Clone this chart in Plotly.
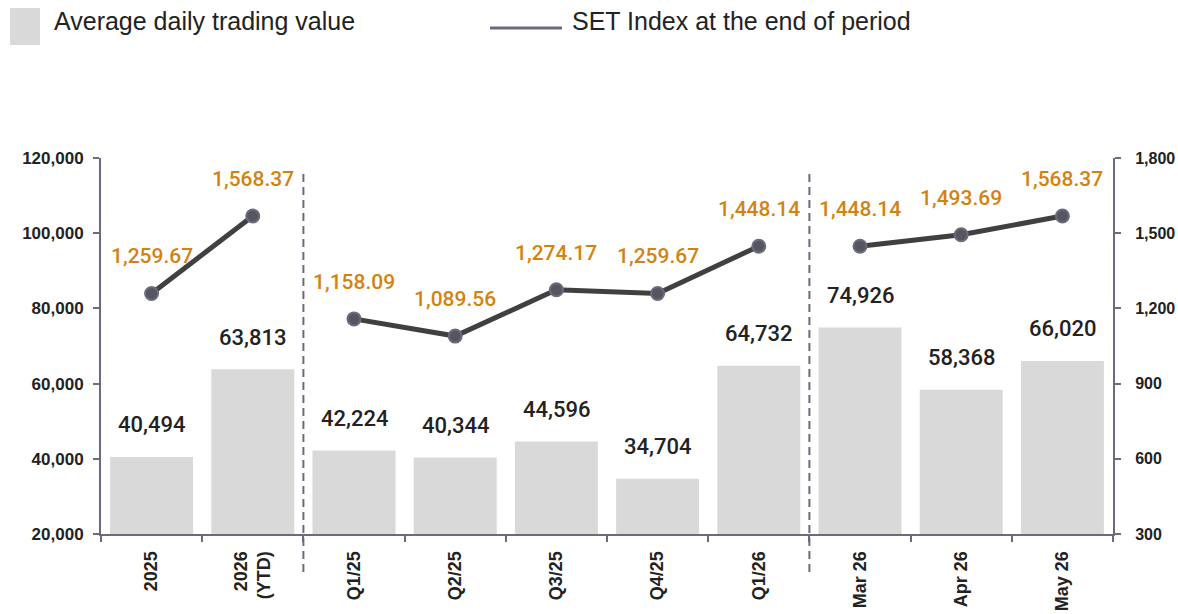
import plotly.graph_objects as go

# ---- data ----
categories = ["2025", "2026<br>(YTD)", "Q1/25", "Q2/25", "Q3/25", "Q4/25", "Q1/26",
              "Mar 26", "Apr 26", "May 26"]
trading_value = [40494, 63813, 42224, 40344, 44596, 34704, 64732, 74926, 58368, 66020]
set_index = [1259.67, 1568.37, 1158.09, 1089.56, 1274.17, 1259.67, 1448.14,
             1448.14, 1493.69, 1568.37]
line_groups = [[0, 1], [2, 3, 4, 5, 6], [7, 8, 9]]
left_ticks = [20000, 40000, 60000, 80000, 100000, 120000]
right_ticks = [300, 600, 900, 1200, 1500, 1800]
separators = [1.5, 6.5]

# ---- layout helpers (pixel -> paper) ----
W, H = 1178, 614
L, R, T, B = 101, 1113, 158, 534


def px_x(p):
    return (p - L) / (R - L)


def px_y(p):
    return (B - p) / (B - T)


FONT = "Arial, 'Liberation Sans', Helvetica, sans-serif"
LABEL_FONT = "Roboto, Arial, sans-serif"
AXIS_COL = "#6b6b80"
ORANGE = "#d4820f"
BAR_COL = "#d9d9d9"

xs = list(range(len(categories)))

fig = go.Figure()
fig.add_trace(go.Bar(x=xs, y=[v - left_ticks[0] for v in trading_value], base=left_ticks[0],
                     marker=dict(color=BAR_COL, line=dict(width=0)), width=0.82,
                     name="Average daily trading value", showlegend=False,
                     hoverinfo="skip"))
for g in line_groups:
    fig.add_trace(go.Scatter(x=[xs[i] for i in g], y=[set_index[i] for i in g], yaxis="y2",
                             mode="lines+markers",
                             line=dict(color="#404040", width=5),
                             marker=dict(size=13, color="#56565f",
                                         line=dict(color=AXIS_COL, width=2)),
                             name="SET Index at the end of period", showlegend=False))

annotations = []
for i, v in enumerate(trading_value):
    annotations.append(dict(x=xs[i], y=v, xref="x", yref="y", text=f"{v:,}",
                            showarrow=False, yanchor="middle", yshift=32,
                            font=dict(family=LABEL_FONT, size=22, color="#222222",
                                      weight=500)))
for i, v in enumerate(set_index):
    annotations.append(dict(x=xs[i], y=v, xref="x", yref="y2", text=f"{v:,.2f}",
                            showarrow=False, yanchor="middle", yshift=37,
                            font=dict(family=LABEL_FONT, size=21, color=ORANGE,
                                      weight=500)))
# legend texts
annotations.append(dict(x=px_x(54), y=px_y(21), xref="paper", yref="paper",
                        text="Average daily trading value", showarrow=False,
                        xanchor="left", yanchor="middle", xshift=-2,
                        font=dict(family=FONT, size=25, color="#222222")))
annotations.append(dict(x=px_x(572), y=px_y(21), xref="paper", yref="paper",
                        text="SET Index at the end of period", showarrow=False,
                        xanchor="left", yanchor="middle", xshift=-2,
                        font=dict(family=FONT, size=25, color="#222222")))

shapes = []
for s in separators:
    shapes.append(dict(type="line", xref="x", yref="paper", x0=s, x1=s,
                       y0=px_y(572), y1=px_y(170),
                       line=dict(color=AXIS_COL, width=2, dash="8px,5px")))
shapes.append(dict(type="rect", xref="paper", yref="paper",
                   x0=px_x(10), x1=px_x(40), y0=px_y(45), y1=px_y(8),
                   fillcolor=BAR_COL, line=dict(width=0)))
shapes.append(dict(type="line", xref="paper", yref="paper",
                   x0=px_x(490), x1=px_x(562), y0=px_y(28), y1=px_y(28),
                   line=dict(color=AXIS_COL, width=3)))

fig.update_layout(
    width=W, height=H,
    margin=dict(l=L, r=W - R, t=T, b=H - B, autoexpand=False),
    paper_bgcolor="white", plot_bgcolor="white",
    font=dict(family=FONT, color="#222222"),
    bargap=0.18,
    xaxis=dict(range=[-0.5, len(categories) - 0.5], tickmode="array", tickvals=xs,
               ticktext=categories, tickangle=-90, ticks="", showgrid=False,
               zeroline=False, showline=True, linecolor=AXIS_COL, linewidth=2,
               automargin=False,
               tickfont=dict(family=FONT, size=18, color="#222222", weight="bold"),
               ticklabelstandoff=8,
               minor=dict(tickmode="array",
                          tickvals=[i - 0.5 for i in range(len(categories) + 1)],
                          ticks="outside", ticklen=6, tickwidth=2, tickcolor=AXIS_COL,
                          showgrid=False)),
    yaxis=dict(range=[left_ticks[0], left_ticks[-1]], tickmode="array",
               tickvals=left_ticks, ticktext=[f"{t:,}" for t in left_ticks],
               ticks="outside", ticklen=6, tickwidth=2, tickcolor=AXIS_COL,
               showgrid=False, zeroline=False, showline=True, linecolor=AXIS_COL,
               linewidth=2, ticklabelstandoff=6, automargin=False,
               tickfont=dict(family=FONT, size=17, color="#222222", weight="bold")),
    yaxis2=dict(range=[right_ticks[0], right_ticks[-1]], overlaying="y", side="right",
                tickmode="array", tickvals=right_ticks,
                ticktext=[f"{t:,}" for t in right_ticks],
                ticks="outside", ticklen=6, tickwidth=2, tickcolor=AXIS_COL,
                showgrid=False, zeroline=False, showline=True, linecolor=AXIS_COL,
                linewidth=2, ticklabelstandoff=11, automargin=False,
                tickfont=dict(family=FONT, size=16, color="#222222", weight="bold")),
    annotations=annotations,
    shapes=shapes,
    showlegend=False,
)

fig.write_html("out.html", config={"displayModeBar": False},
               post_script="document.body.style.margin='0';"
                           "document.body.style.overflow='hidden';")
